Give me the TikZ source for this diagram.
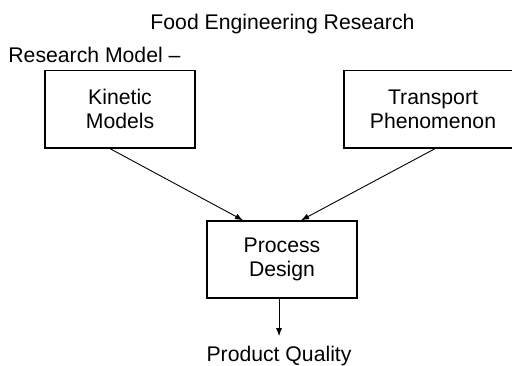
\documentclass[tikz,border=0pt]{standalone}
\usepackage{fontspec}
\setmainfont{Liberation Sans}
\usepackage{xcolor}
\usetikzlibrary{arrows.meta}

\tikzset{
    box/.style={draw, line width=0.7pt, align=center, inner sep=0pt, minimum height=1.36cm},
    link/.style={-{Latex[length=4pt, width=3pt]}, line width=0.45pt}
}

\begin{document}
\begin{tikzpicture}[font=\fontsize{10.6}{12}\selectfont]
    \clip (0, 0) rectangle (8.997, 6.414);

    \node[anchor=base] at (4.964, 5.887) (title) {Food Engineering Research};
    \node[anchor=base west, inner sep=0pt] at (0.141, 5.307) (model) {Research Model --};

    \node[box, minimum width=2.636cm] at (2.109, 4.494) (kin) {Kinetic\\Models};
    \node[box, minimum width=3.128cm] at (7.609, 4.494) (trans) {Transport\\Phenomenon};
    \node[box, minimum width=2.636cm, minimum height=1.353cm] at (4.956, 1.854) (proc) {Process\\Design};
    \node[anchor=base, inner sep=5pt] at (4.903, 0.053) (pq) {Product Quality};

    \draw [link] ([xshift=-0.176cm]kin.south) -- ([xshift=-0.685cm]proc.north);
    \draw [link] ([xshift=0.035cm]trans.south) -- ([xshift=0.334cm]proc.north);
    \draw [link] (pq |- proc.south) -- (pq.north);
\end{tikzpicture}
\end{document}
